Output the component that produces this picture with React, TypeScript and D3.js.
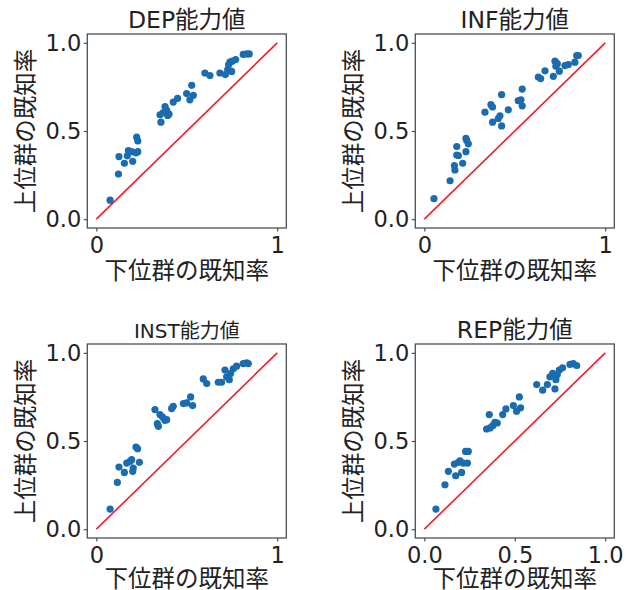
import React, { useEffect, useRef } from 'react';
import * as d3 from 'd3';

// 下位群 (x) / 上位群 (y) known-rate per item
const depX = [0.076, 0.122, 0.125, 0.155, 0.171, 0.177, 0.195, 0.201, 0.219, 0.223, 0.229, 0.229,
  0.357, 0.352, 0.370, 0.380, 0.389, 0.394, 0.402, 0.425, 0.449, 0.499, 0.517, 0.527, 0.536,
  0.600, 0.628, 0.683, 0.713, 0.726, 0.731, 0.738, 0.748, 0.751, 0.770, 0.812, 0.831, 0.845];
const depY = [0.108, 0.256, 0.355, 0.317, 0.359, 0.389, 0.383, 0.328, 0.376, 0.465, 0.444, 0.383,
  0.550, 0.592, 0.605, 0.639, 0.617, 0.588, 0.596, 0.664, 0.685, 0.712, 0.677, 0.759, 0.702,
  0.829, 0.814, 0.829, 0.820, 0.848, 0.875, 0.890, 0.838, 0.896, 0.905, 0.934, 0.937, 0.937];

const infX = [0.053, 0.142, 0.169, 0.166, 0.179, 0.179, 0.188, 0.212, 0.230, 0.230, 0.243, 0.234,
  0.335, 0.368, 0.377, 0.377, 0.409, 0.418, 0.427, 0.427, 0.464, 0.519, 0.534, 0.541, 0.541,
  0.630, 0.643, 0.667, 0.713, 0.722, 0.727, 0.735, 0.746, 0.777, 0.796, 0.832, 0.842, 0.851];
const infY = [0.116, 0.218, 0.279, 0.304, 0.364, 0.412, 0.361, 0.317, 0.383, 0.459, 0.427, 0.446,
  0.607, 0.649, 0.636, 0.550, 0.571, 0.586, 0.529, 0.706, 0.620, 0.672, 0.677, 0.738, 0.643,
  0.806, 0.797, 0.841, 0.810, 0.896, 0.867, 0.882, 0.839, 0.871, 0.877, 0.890, 0.928, 0.928];

const instX = [0.076, 0.116, 0.125, 0.155, 0.168, 0.186, 0.195, 0.201, 0.204, 0.219, 0.228, 0.238,
  0.324, 0.337, 0.343, 0.352, 0.366, 0.379, 0.389, 0.416, 0.425, 0.481, 0.499, 0.521, 0.532,
  0.591, 0.610, 0.674, 0.692, 0.711, 0.720, 0.735, 0.742, 0.757, 0.775, 0.812, 0.831, 0.840];
const instY = [0.114, 0.265, 0.352, 0.322, 0.375, 0.384, 0.394, 0.328, 0.347, 0.466, 0.456, 0.379,
  0.678, 0.598, 0.583, 0.650, 0.636, 0.617, 0.621, 0.684, 0.697, 0.712, 0.716, 0.750, 0.701,
  0.852, 0.826, 0.833, 0.833, 0.902, 0.864, 0.848, 0.883, 0.909, 0.924, 0.939, 0.943, 0.939];

const repX = [0.064, 0.114, 0.133, 0.166, 0.173, 0.188, 0.197, 0.206, 0.215, 0.228, 0.243, 0.238,
  0.344, 0.359, 0.363, 0.378, 0.390, 0.403, 0.433, 0.451, 0.492, 0.510, 0.525, 0.532,
  0.621, 0.654, 0.680, 0.694, 0.709, 0.722, 0.727, 0.735, 0.746, 0.764, 0.805, 0.823, 0.842];
const repY = [0.114, 0.252, 0.328, 0.369, 0.303, 0.379, 0.388, 0.322, 0.375, 0.441, 0.441, 0.375,
  0.568, 0.650, 0.574, 0.587, 0.606, 0.602, 0.650, 0.682, 0.701, 0.669, 0.750, 0.688,
  0.820, 0.788, 0.820, 0.864, 0.883, 0.795, 0.848, 0.877, 0.902, 0.915, 0.934, 0.939, 0.928];

const titles = ['DEP能力値', 'INF能力値', 'INST能力値', 'REP能力値'];
const xTicksShort = [0, 1];
const xTicksLong = [0, 0.5, 1];
const yTicks = [0, 0.5, 1];
const diagonal = [0, 1];

const FONT = '"DejaVu Sans", "Noto Sans CJK JP", sans-serif';

export default function App() {
  const ref = useRef<SVGSVGElement>(null);

  useEffect(() => {
    const svg = d3.select(ref.current);
    svg.selectAll('*').remove();

    const w = 199;
    const h = 194;
    const panels = [
      { x: depX, y: depY, left: 87.3, top: 34, xt: xTicksShort, fmt: d3.format('d'), ts: 23.5, lb: 51 },
      { x: infX, y: infY, left: 415.3, top: 34, xt: xTicksShort, fmt: d3.format('d'), ts: 23.5, lb: 51 },
      { x: instX, y: instY, left: 87.3, top: 344, xt: xTicksShort, fmt: d3.format('d'), ts: 20, lb: 48.5 },
      { x: repX, y: repY, left: 415.3, top: 344, xt: xTicksLong, fmt: d3.format('.1f'), ts: 23.5, lb: 48.5 },
    ];

    const xScale = d3.scaleLinear().domain([-0.05, 1.05]).range([0, w]);
    const yScale = d3.scaleLinear().domain([-0.05, 1.05]).range([h, 0]);

    panels.forEach((p, i) => {
      const g = svg.append('g').attr('transform', `translate(${p.left}, ${p.top})`);

      // diagonal reference line
      const line = d3.line<number>().x(d => xScale(d)).y(d => yScale(d));
      g.append('path')
        .attr('d', line(diagonal))
        .attr('fill', 'none')
        .attr('stroke', '#ee1f2d')
        .attr('stroke-width', 1.6);

      // points
      g.selectAll('.pt')
        .data(p.x.map((v, k) => [v, p.y[k]]))
        .enter()
        .append('circle')
        .attr('class', 'pt')
        .attr('cx', d => xScale(d[0]))
        .attr('cy', d => yScale(d[1]))
        .attr('r', 3.6)
        .attr('fill', '#1a6cb0');

      // frame
      g.append('rect')
        .attr('width', w)
        .attr('height', h)
        .attr('fill', 'none')
        .attr('stroke', '#4a4f55')
        .attr('stroke-width', 1.3);

      // axes
      const xAxis = d3.axisBottom(xScale).tickValues(p.xt).tickFormat(p.fmt as any).tickSize(3.5).tickPadding(5.5);
      const yAxis = d3.axisLeft(yScale).tickValues(yTicks).tickFormat(d3.format('.1f') as any).tickSize(3.5).tickPadding(2.5);

      const xg = g.append('g').attr('transform', `translate(0, ${h})`).call(xAxis);
      const yg = g.append('g').call(yAxis);
      [xg, yg].forEach(a => {
        a.select('.domain').remove();
        a.selectAll('line').attr('stroke', '#4a4f55').attr('stroke-width', 1.2);
        a.selectAll('text').attr('fill', '#222').attr('font-size', 22.5).attr('font-family', FONT);
      });

      // labels
      g.append('text')
        .attr('x', w / 2)
        .attr('y', h + p.lb)
        .attr('text-anchor', 'middle')
        .attr('font-size', 23.5)
        .attr('font-family', FONT)
        .attr('fill', '#222')
        .text('下位群の既知率');

      g.append('text')
        .attr('transform', `translate(-53, ${h / 2}) rotate(-90)`)
        .attr('text-anchor', 'middle')
        .attr('font-size', 23.5)
        .attr('font-family', FONT)
        .attr('fill', '#222')
        .text('上位群の既知率');

      g.append('text')
        .attr('x', w / 2)
        .attr('y', -6)
        .attr('text-anchor', 'middle')
        .attr('font-size', p.ts)
        .attr('font-family', FONT)
        .attr('fill', '#222')
        .text(titles[i]);
    });
  }, []);

  return (
    <svg ref={ref} width={627} height={590}
      style={{ position: 'absolute', left: 0, top: 0, background: '#fff' }} />
  );
}
